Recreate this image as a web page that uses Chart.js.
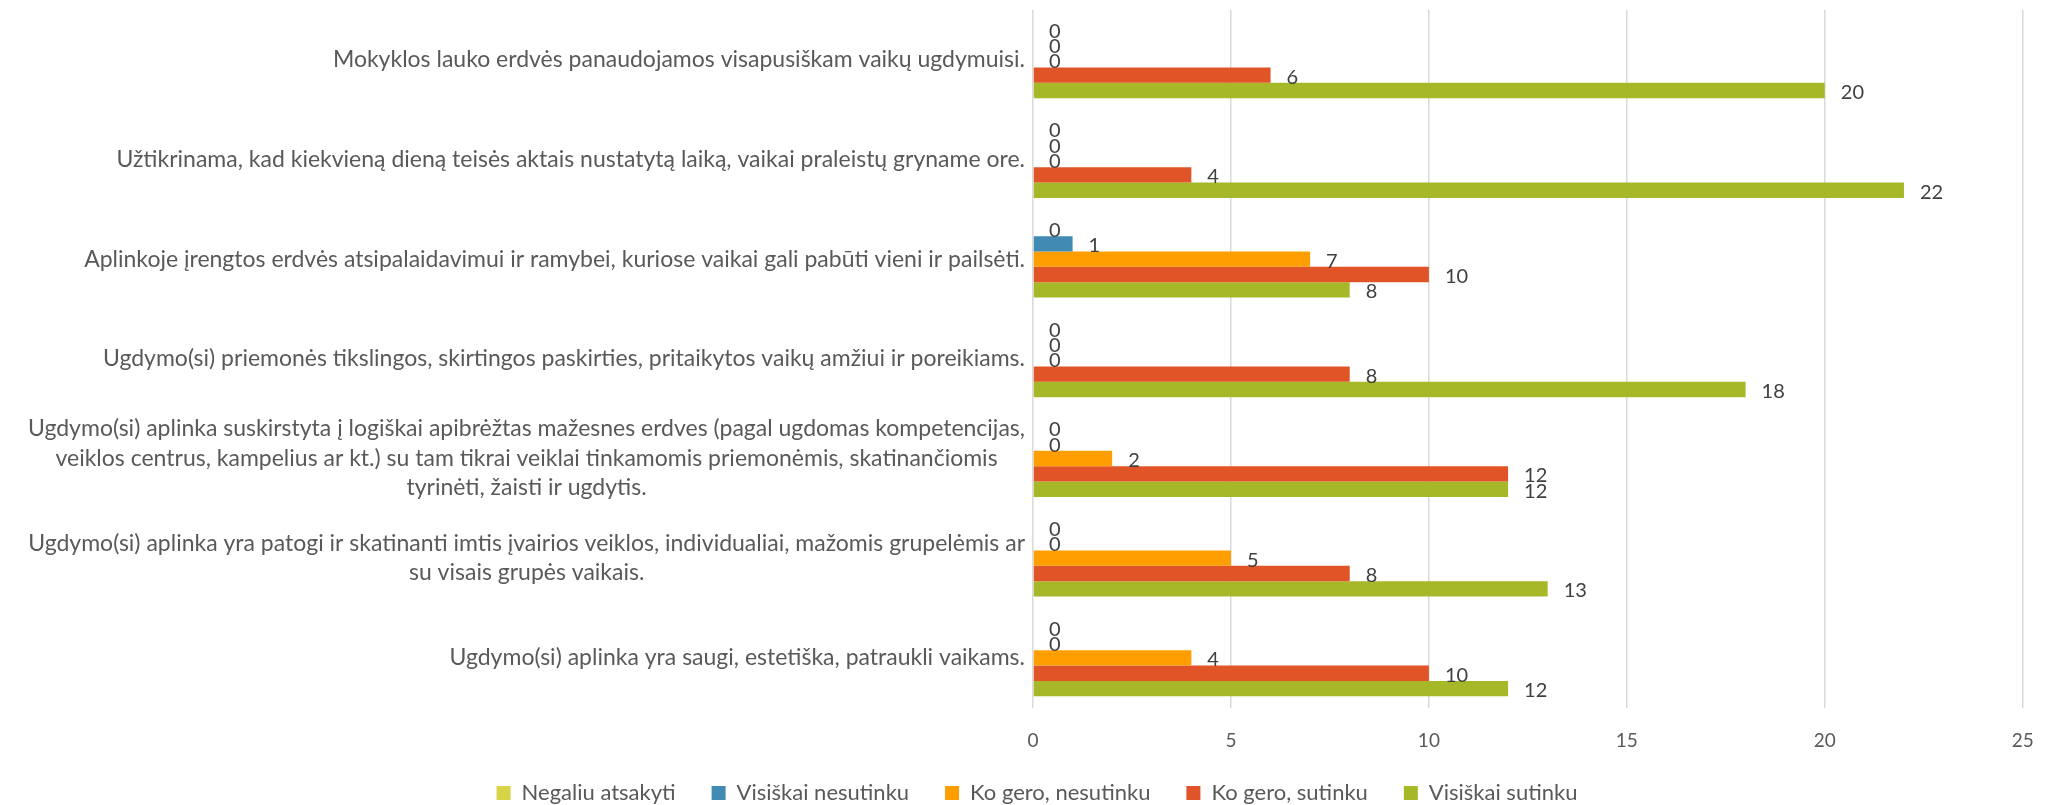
<!DOCTYPE html>
<html>
<head>
<meta charset="utf-8">
<script src="https://cdn.jsdelivr.net/npm/chart.js"></script>
<style>
  html, body { margin: 0; padding: 0; background: #fff; }
  #wrap { width: 2056px; height: 805px; }
</style>
</head>
<body>
<div id="wrap"><canvas id="bar-chart"></canvas></div>
<script>
// questions, top to bottom (multi-line ones as arrays of lines)
const categories = [
  "Mokyklos lauko erdvės panaudojamos visapusiškam vaikų ugdymuisi.",
  "Užtikrinama, kad kiekvieną dieną teisės aktais nustatytą laiką, vaikai praleistų gryname ore.",
  "Aplinkoje įrengtos erdvės atsipalaidavimui ir ramybei, kuriose vaikai gali pabūti vieni ir pailsėti.",
  "Ugdymo(si) priemonės tikslingos, skirtingos paskirties, pritaikytos vaikų amžiui ir poreikiams.",
  ["Ugdymo(si) aplinka suskirstyta į logiškai apibrėžtas mažesnes erdves (pagal ugdomas kompetencijas,",
   "veiklos centrus, kampelius ar kt.) su tam tikrai veiklai tinkamomis priemonėmis, skatinančiomis",
   "tyrinėti, žaisti ir ugdytis."],
  ["Ugdymo(si) aplinka yra patogi ir skatinanti imtis įvairios veiklos, individualiai, mažomis grupelėmis ar",
   "su visais grupės vaikais."],
  "Ugdymo(si) aplinka yra saugi, estetiška, patraukli vaikams."
];

const seriesNames = ["Negaliu atsakyti", "Visiškai nesutinku", "Ko gero, nesutinku", "Ko gero, sutinku", "Visiškai sutinku"];
const negaliuAtsakyti = [0, 0, 0, 0, 0, 0, 0];
const visiskaiNesutinku = [0, 0, 1, 0, 0, 0, 0];
const koGeroNesutinku = [0, 0, 7, 0, 2, 5, 4];
const koGeroSutinku = [6, 4, 10, 8, 12, 8, 10];
const visiskaiSutinku = [20, 22, 8, 18, 12, 13, 12];
const xTicks = [0, 5, 10, 15, 20, 25];

const colors = ["#D7D447", "#418AB3", "#FE9E00", "#E05427", "#A6B827"];
const fontFamily = "Lato, 'Open Sans', sans-serif";

// value labels right of each bar end
const valueLabels = {
  id: "valueLabels",
  afterDatasetsDraw(chart) {
    const ctx = chart.ctx;
    ctx.save();
    ctx.font = "20px " + fontFamily;
    ctx.fillStyle = "#404040";
    ctx.textAlign = "left";
    ctx.textBaseline = "middle";
    chart.data.datasets.forEach((ds, i) => {
      chart.getDatasetMeta(i).data.forEach((bar, j) => {
        ctx.fillText(String(ds.data[j]), bar.x + 16, bar.y + 2);
      });
    });
    ctx.restore();
  }
};

// category labels: block right-aligned to the axis, lines centred inside the block
const categoryLabels = {
  id: "categoryLabels",
  afterDraw(chart) {
    const ctx = chart.ctx;
    const scale = chart.scales.y;
    const lineHeight = 29.5;
    ctx.save();
    ctx.font = "23px " + fontFamily;
    ctx.fillStyle = "#595959";
    ctx.textAlign = "center";
    ctx.textBaseline = "middle";
    categories.forEach((label, i) => {
      const lines = Array.isArray(label) ? label : [label];
      const blockW = Math.max(...lines.map(l => ctx.measureText(l).width));
      const cx = chart.chartArea.left - 8 - blockW / 2;
      const cy = scale.getPixelForTick(i);
      lines.forEach((line, k) => {
        ctx.fillText(line, cx, cy + (k - (lines.length - 1) / 2) * lineHeight);
      });
    });
    ctx.restore();
  }
};

// keep the legend compact vertically while its items stay widely spaced
const legendFit = {
  id: "legendFit",
  afterInit(chart) {
    const legend = chart.legend;
    const fit = legend.fit;
    legend.fit = function () {
      fit.call(this);
      this.height = 30;
    };
  },
  afterLayout(chart) {
    const lg = chart.legend;
    lg.top = chart.height - 59;
    lg.bottom = chart.height;
    lg.height = lg.bottom - lg.top;
    lg.left += 23;
    lg.right += 23;
  }
};

const seriesData = [negaliuAtsakyti, visiskaiNesutinku, koGeroNesutinku, koGeroSutinku, visiskaiSutinku];

new Chart(document.getElementById("bar-chart"), {
  type: "bar",
  data: {
    labels: categories,
    datasets: seriesNames.map((name, i) => ({
      label: name,
      data: seriesData[i],
      backgroundColor: colors[i],
      borderWidth: 0,
      categoryPercentage: 0.77,
      barPercentage: 1.0
    }))
  },
  options: {
    indexAxis: "y",
    responsive: true,
    maintainAspectRatio: false,
    animation: false,
    layout: { padding: { top: 10, right: 28, left: 0, bottom: 0 } },
    scales: {
      x: {
        min: 0,
        max: 25,
        afterBuildTicks: scale => { scale.ticks = xTicks.map(v => ({ value: v })); },
        grid: { color: "#d9d9d9", lineWidth: 1.5, drawTicks: false },
        border: { display: false },
        ticks: { color: "#595959", font: { family: fontFamily, size: 19 }, padding: 22.25 }
      },
      y: {
        afterFit: scale => { scale.width = 1033; },
        grid: { display: false },
        border: { display: false },
        ticks: { color: "transparent", font: { family: fontFamily, size: 8 } }
      }
    },
    plugins: {
      legend: {
        position: "bottom",
        labels: {
          color: "#595959",
          font: { family: fontFamily, size: 22 },
          boxWidth: 14,
          boxHeight: 14,
          padding: 36
        }
      },
      tooltip: { enabled: false }
    }
  },
  plugins: [valueLabels, categoryLabels, legendFit]
});
</script>
</body>
</html>
